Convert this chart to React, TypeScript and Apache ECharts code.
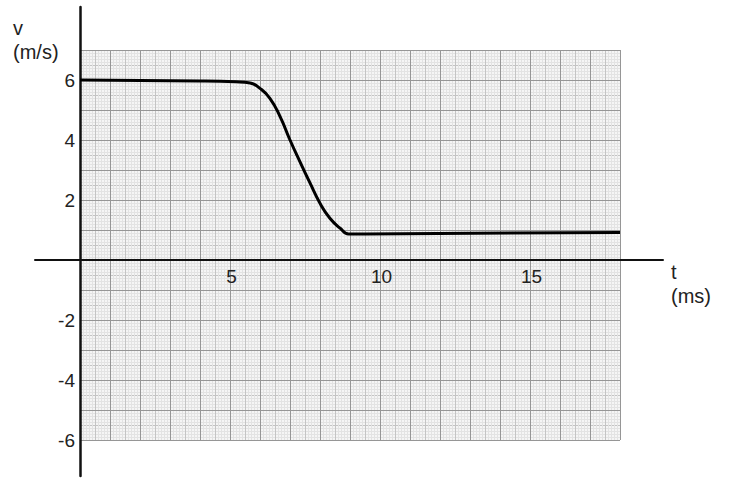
import { useEffect, useRef } from 'react';
import * as echarts from 'echarts';

// velocity curve (t in ms, v in m/s)
const timeMs = [0, 4, 5.2, 5.67, 6.0, 6.33, 6.67, 7.0, 7.33, 7.67, 8.0, 8.33, 8.67, 8.95, 9.5, 18];
const velocity = [6.0, 5.97, 5.94, 5.9, 5.72, 5.39, 4.78, 4.0, 3.28, 2.56, 1.89, 1.39, 1.06, 0.87, 0.87, 0.92];

const xTickLabels = [5, 10, 15];
const yTickLabels = [-6, -4, -2, 2, 4, 6];

const FONT = '"Liberation Sans", Arial, sans-serif';

export default function App() {
  const chartRef = useRef<HTMLDivElement>(null);

  useEffect(() => {
    if (!chartRef.current) return;
    const chart = echarts.init(chartRef.current, null, { renderer: 'svg' });

    const hidden = {
      axisLine: { show: false },
      axisTick: { show: false },
      axisLabel: { show: false },
    };
    const tickText = { margin: 5, color: '#222', fontSize: 19, fontFamily: FONT };

    const option: any = {
      animation: false,
      backgroundColor: '#ffffff',
      grid: [
        // graph paper (t 0..18, v -6..7)
        {
          left: 80, top: 50, width: 540, height: 390,
          show: true, backgroundColor: '#f5f5f5', borderWidth: 0,
          outerBoundsMode: 'none', containLabel: false,
        },
        // axis lines + curve
        {
          left: 35, top: 7, width: 628, height: 469,
          show: false, outerBoundsMode: 'none', containLabel: false,
        },
        // upper half of the paper: its bottom edge is v = 0, for the t labels
        {
          left: 80, top: 50, width: 540, height: 210,
          show: false, outerBoundsMode: 'none', containLabel: false,
        },
      ],
      xAxis: [
        {
          type: 'value', gridIndex: 0, position: 'bottom', min: 0, max: 18, interval: 0.5, z: 1,
          ...hidden,
          splitLine: { show: true, lineStyle: { color: '#c4c4c4', width: 1 } },
          minorTick: { show: false, splitNumber: 5 },
          minorSplitLine: { show: true, lineStyle: { color: '#e3e3e3', width: 1 } },
        },
        {
          type: 'value', gridIndex: 0, position: 'bottom', min: 0, max: 18, interval: 1, z: 2,
          ...hidden,
          splitLine: { show: true, lineStyle: { color: '#969696', width: 1 } },
        },
        {
          type: 'value', gridIndex: 1, position: 'bottom', min: -1.5, max: 19.4333, z: 3,
          axisLine: { show: true, onZero: true, lineStyle: { color: '#111', width: 2 } },
          axisTick: { show: false },
          axisLabel: { show: false },
          splitLine: { show: false },
          name: 't\n(ms)',
          nameLocation: 'end',
          nameGap: 8,
          nameTextStyle: {
            align: 'left', verticalAlign: 'top',
            fontSize: 20, lineHeight: 24, color: '#222', fontFamily: FONT,
          },
        },
        {
          type: 'value', gridIndex: 2, position: 'bottom', min: 0, max: 18, z: 3,
          axisLine: { show: false, onZero: false },
          axisTick: { show: false },
          splitLine: { show: false },
          axisLabel: { ...tickText, customValues: xTickLabels, padding: [2, 0, 0, 3] },
        },
      ],
      yAxis: [
        {
          type: 'value', gridIndex: 0, position: 'left', min: -6, max: 7, interval: 0.5, z: 1,
          ...hidden,
          splitLine: { show: true, lineStyle: { color: '#c4c4c4', width: 1 } },
          minorTick: { show: false, splitNumber: 5 },
          minorSplitLine: { show: true, lineStyle: { color: '#e3e3e3', width: 1 } },
        },
        {
          type: 'value', gridIndex: 0, position: 'left', min: -6, max: 7, interval: 1, z: 2,
          axisLine: { show: false, onZero: false },
          axisTick: { show: false },
          axisLabel: { ...tickText, customValues: yTickLabels },
          splitLine: { show: true, lineStyle: { color: '#969696', width: 1 } },
        },
        {
          type: 'value', gridIndex: 1, position: 'left', min: -7.2, max: 8.4333, z: 3,
          axisLine: { show: true, onZero: true, lineStyle: { color: '#111', width: 2.5 } },
          axisTick: { show: false },
          axisLabel: { show: false },
          splitLine: { show: false },
        },
        {
          type: 'value', gridIndex: 2, position: 'left', min: 0, max: 7, z: 3,
          ...hidden,
          splitLine: { show: false },
        },
      ],
      graphic: [
        {
          type: 'text',
          left: 13,
          top: 16,
          z: 10,
          style: {
            text: 'v\n(m/s)',
            fontSize: 20,
            lineHeight: 24,
            fill: '#222',
            fontFamily: FONT,
          },
        },
      ],
      series: [
        {
          type: 'line',
          xAxisIndex: 2,
          yAxisIndex: 2,
          data: timeMs.map((t, i) => [t, velocity[i]]),
          smooth: 0.5,
          showSymbol: false,
          lineStyle: { color: '#000', width: 3 },
          z: 5,
        },
      ],
    };

    chart.setOption(option);
    return () => chart.dispose();
  }, []);

  return (
    <div
      ref={chartRef}
      style={{ position: 'absolute', left: 0, top: 0, width: 732, height: 495 }}
    />
  );
}
